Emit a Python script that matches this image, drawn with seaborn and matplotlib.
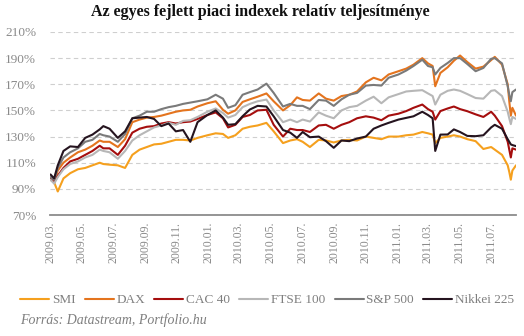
import pandas as pd
import matplotlib
matplotlib.use("Agg")
import matplotlib.pyplot as plt
import matplotlib.dates as mdates
from matplotlib.ticker import FuncFormatter
import seaborn as sns

# Observation dates (roughly semi-monthly, plus key market days)
dates = [
    "2009-03-02", "2009-03-09", "2009-03-16", "2009-03-27", "2009-04-09", "2009-04-24",
    "2009-05-08", "2009-05-22", "2009-06-05", "2009-06-12", "2009-06-24", "2009-07-10",
    "2009-07-24", "2009-08-07", "2009-08-21", "2009-09-04", "2009-09-18", "2009-10-02",
    "2009-10-16", "2009-10-30", "2009-11-13", "2009-11-27", "2009-12-11", "2009-12-30",
    "2010-01-15", "2010-01-29", "2010-02-08", "2010-02-22", "2010-03-08", "2010-03-22",
    "2010-04-06", "2010-04-23", "2010-05-07", "2010-05-25", "2010-06-08", "2010-06-21",
    "2010-07-02", "2010-07-16", "2010-08-02", "2010-08-16", "2010-08-31", "2010-09-15",
    "2010-09-30", "2010-10-15", "2010-11-01", "2010-11-16", "2010-12-01", "2010-12-15",
    "2011-01-03", "2011-01-18", "2011-02-01", "2011-02-18", "2011-03-01", "2011-03-10",
    "2011-03-15", "2011-03-25", "2011-04-08", "2011-04-20", "2011-05-02", "2011-05-16",
    "2011-06-01", "2011-06-16", "2011-07-01", "2011-07-08", "2011-07-22", "2011-08-02",
    "2011-08-05", "2011-08-08", "2011-08-11", "2011-08-18",
]

# Relative performance, % of the starting level
smi = [
    97, 95, 88, 98, 102, 105, 106, 108, 110, 109, 108.5, 108,
    106, 116, 120, 122, 124, 124.5, 126, 127.5, 127.5, 127, 129, 131,
    132.5, 132, 129, 131, 136, 137.5, 138.5, 140.5, 134, 125, 127, 128,
    126, 122, 127.5, 127, 125.5, 127, 127.5, 127, 130, 129, 128, 130,
    130, 131, 131.5, 133.5, 132.5, 131.5, 125, 129, 130, 131, 130, 128,
    126.5, 120.5, 122, 120, 116, 108, 103, 97, 104, 108,
]
dax = [
    97, 95, 104, 110, 114, 118, 120, 123, 127, 126, 126, 122,
    128, 141, 143, 144.5, 145, 146, 147.5, 149, 150, 150.5, 153, 155.5,
    157, 150.5, 147.5, 150, 156.5, 158.5, 160.5, 163, 157, 150, 154, 160,
    158, 157.5, 163, 159, 157.5, 161, 162, 164.5, 171.5, 175, 173, 177.5,
    180, 182, 185, 190, 186, 184, 168.5, 178.7, 183, 188, 192, 187,
    182, 183.5, 188.5, 191, 185, 170, 157, 146, 152, 146,
]
cac = [
    98, 95, 100, 106, 111, 113, 116, 119, 123, 121, 121, 116,
    123, 133, 136, 137.5, 138, 140, 141, 140, 141, 141.5, 143.5, 146.5,
    148.5, 144, 137, 139, 145, 146.5, 150, 150.5, 139, 130, 136, 135,
    135, 133.5, 138.5, 139, 136, 139, 141, 144, 145.5, 144.5, 142.5, 146,
    147.5, 149.5, 152, 154.5, 151, 149, 143, 149.5, 151.5, 153, 151, 149.4,
    147, 145, 149, 146, 138, 126, 120, 114, 121, 120,
]
ftse = [
    97, 94, 99, 105, 109, 111, 114, 116, 120, 119, 118, 113,
    119, 127, 131, 134, 137, 138.5, 140.5, 139, 142, 142.5, 145, 149,
    151.5, 148, 144.5, 146.5, 152.5, 155, 157, 158.3, 150, 141, 143, 141,
    143, 141.5, 148.5, 146, 144, 150, 152.5, 153.5, 157.5, 160.5, 155.5, 160,
    162.5, 164.5, 165, 165.5, 163, 161, 154.5, 162, 165, 166, 165, 162.5,
    159.5, 159, 165, 165.5, 161, 149, 144, 139.5, 145, 143.5,
]
sp500 = [
    99, 97, 106, 114, 118, 121, 126, 127.5, 132, 131, 130, 126,
    132, 144, 146, 149, 149, 151, 152.5, 153.5, 155, 156, 157, 158.5,
    162, 159, 152, 154, 162, 164, 166, 170.5, 163.4, 153, 155, 153.5,
    153.5, 151, 158, 157.5, 153.5, 158.5, 162, 163.4, 169, 169.5, 169, 175,
    177.5, 180.5, 184, 188.8, 184, 183, 177.5, 182.5, 186.3, 190, 190, 185.5,
    180, 182.5, 189.5, 190, 186, 168.5, 162, 157, 164, 166,
]
nikkei = [
    101, 98, 108, 119, 122.5, 122, 129, 131.5, 135.5, 138, 136, 129,
    134, 144, 144.5, 145, 143.5, 138, 140, 134, 135, 126, 141, 146.5,
    150, 144.5, 139, 139.5, 145.6, 150.7, 153.5, 153, 145.5, 135, 133, 129,
    133.5, 129.5, 130, 126.5, 121.4, 127, 126.5, 128.5, 130, 136, 138.5, 140.5,
    143, 144.3, 145.5, 149, 146.5, 144, 119, 131.5, 131.6, 135.5, 133.5, 130.5,
    130.3, 131, 137, 139, 136, 128, 126, 124, 123.5, 122.7,
]

series_names = ["SMI", "DAX", "CAC 40", "FTSE 100", "S&P 500", "Nikkei 225"]
colors = ["#F5A01E", "#E4741E", "#A50E0E", "#B7B7B7", "#7A7A7A", "#25141F"]
palette = dict(zip(series_names, colors))

wide = pd.DataFrame({
    "date": pd.to_datetime(dates),
    "SMI": smi,
    "DAX": dax,
    "CAC 40": cac,
    "FTSE 100": ftse,
    "S&P 500": sp500,
    "Nikkei 225": nikkei,
})
long = wide.melt(id_vars="date", var_name="index", value_name="value")

sns.set_style("white")
plt.rcParams["font.family"] = ["Liberation Serif", "DejaVu Serif"]

W, H = 524, 336
fig = plt.figure(figsize=(W / 100, H / 100), dpi=100)
ax = fig.add_axes([50 / W, 1 - 215 / H, (516 - 50) / W, (215 - 32) / H])

sns.lineplot(data=long, x="date", y="value", hue="index", hue_order=series_names,
             palette=palette, linewidth=1.5, ax=ax, legend=True)

handles, labels = ax.get_legend_handles_labels()
ax.get_legend().remove()

ax.set_ylim(70, 210)
ax.set_yticks(range(70, 211, 20))
ax.yaxis.set_major_formatter(FuncFormatter(lambda v, p: f"{v:.0f}%"))
ax.set_xlim(pd.Timestamp("2009-03-01"), pd.Timestamp("2011-08-18"))
ax.xaxis.set_major_locator(mdates.MonthLocator(bymonth=[1, 3, 5, 7, 9, 11]))
ax.xaxis.set_major_formatter(mdates.DateFormatter("%Y.%m."))

ax.set_xlabel("")
ax.set_ylabel("")
ax.yaxis.grid(True, linestyle=(0, (4, 3)), color="#CFCFCF", linewidth=0.8)
ax.xaxis.grid(False)
ax.set_axisbelow(True)
for side in ["left", "right", "top"]:
    ax.spines[side].set_visible(False)
ax.spines["bottom"].set_color("#8C8C8C")
ax.spines["bottom"].set_linewidth(1.3)

ax.tick_params(axis="y", length=0, pad=10, labelsize=9.5, labelcolor="#8A8A8A")
ax.tick_params(axis="x", length=0, pad=5, labelsize=8.5, labelcolor="#8A8A8A",
               labelrotation=90)

fig.text(0.497, 1 - 12 / H, "Az egyes fejlett piaci indexek relatív teljesítménye",
         ha="center", va="center", fontsize=11.5, fontweight="bold", color="#111111")

fig.legend(handles, labels, loc="center", bbox_to_anchor=(267 / W, 1 - 300 / H),
           ncol=6, frameon=False, fontsize=9.5, handlelength=2.2, handletextpad=0.2,
           columnspacing=0.7, labelcolor="#7F7F7F", borderpad=0.1)

fig.text(20 / W, 1 - 320 / H, "Forrás: Datastream, Portfolio.hu", ha="left", va="center",
         fontsize=10, style="italic", color="#7F7F7F")

fig.savefig("out.png", dpi=100)
